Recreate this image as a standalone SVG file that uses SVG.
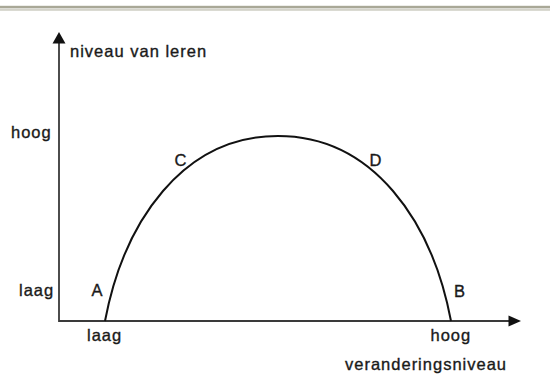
<svg xmlns="http://www.w3.org/2000/svg" width="550" height="390" viewBox="0 0 550 390">
  <style>
    .t { font-family: "Liberation Sans", Arial, Helvetica, sans-serif; font-size: 16.5px; letter-spacing: 1px; fill: #1a1a1a; stroke: #1a1a1a; stroke-width: 0.35; }
    .axis { stroke: #3a3a3a; stroke-width: 1.8; fill: none; }
    .head { fill: #111; }
    .curve { stroke: #111; stroke-width: 2; fill: none; }
    .border { fill: #a9a897; }
  </style>
  <rect width="550" height="390" fill="#ffffff"/>
  <g id="top-border">
    <rect class="border" x="0" y="5.8" width="550" height="2.6"/>
    <rect class="border" x="0" y="9.4" width="550" height="1.1" opacity="0.85"/>
  </g>
  <g id="axes">
    <polyline class="axis" points="59,42 59,321 510,321"/>
    <polygon class="head" points="59,32 52.5,43.5 65.5,43.5"/>
    <polygon class="head" points="521,321 508.5,315.5 508.5,326.5"/>
  </g>
  <g id="curve">
    <path class="curve" d="M105,321 C124,221 183,136 278,136 C373,136 432,221 451,321"/>
  </g>
  <g id="labels">
    <text class="t" x="70" y="57">niveau van leren</text>
    <text class="t" x="11" y="138">hoog</text>
    <text class="t" x="19" y="296">laag</text>
    <text class="t" x="91.5" y="296">A</text>
    <text class="t" x="454" y="296.5">B</text>
    <text class="t" x="174.5" y="166">C</text>
    <text class="t" x="369.5" y="166">D</text>
    <text class="t" x="87" y="340.5">laag</text>
    <text class="t" x="430.5" y="340.5">hoog</text>
    <text class="t" x="345" y="370">veranderingsniveau</text>
  </g>
</svg>
